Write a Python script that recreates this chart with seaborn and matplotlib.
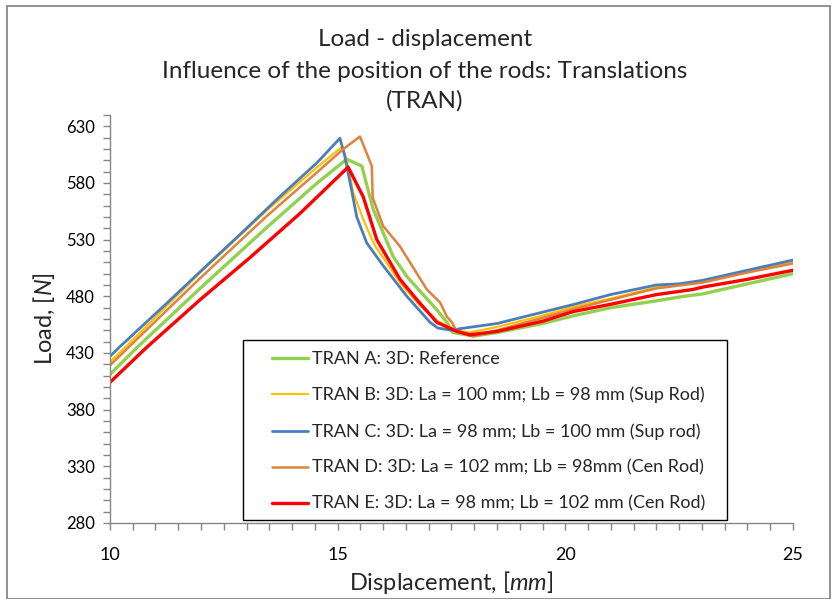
import matplotlib.pyplot as plt
import numpy as np
import pandas as pd
import seaborn as sns
from matplotlib.patches import Rectangle
from matplotlib.ticker import MultipleLocator

sns.set_theme(style="white")
plt.rcParams["font.family"] = ["Lato", "DejaVu Sans"]
plt.rcParams["mathtext.fontset"] = "custom"
plt.rcParams["mathtext.rm"] = "Lato"
plt.rcParams["mathtext.it"] = "Lato:italic"

# values (displacement in mm, load in N)
tran_a_x = [10, 10.59, 11.98, 13.45, 14.55, 15.2, 15.53, 15.78, 16.22, 16.52, 17.18, 17.4,
            17.53, 18.0, 18.5, 19.5, 20.2, 21, 22, 22.6, 23, 24, 25]
tran_a_y = [411, 434.7, 487, 541, 580, 601, 595, 557, 515, 497.5, 468, 457,
            448, 445, 448, 456, 463, 470, 476, 480, 482, 491, 500]

tran_b_x = [10, 10.33, 11.98, 13.45, 14.55, 15.1, 15.2, 15.34, 15.56, 15.8, 16.37, 16.8,
            17.2, 17.6, 17.9, 18.5, 19.5, 20.2, 21, 22, 23, 24, 25]
tran_b_y = [422, 434.7, 501, 556, 594, 612, 600, 572, 548, 526, 492, 472,
            458, 450, 448, 453, 463, 471, 478, 488, 493, 502, 510]

tran_c_x = [10, 10.22, 11.25, 12.2, 12.92, 13.73, 14.55, 15.05, 15.15, 15.3, 15.42, 15.64,
            16.0, 16.52, 17.03, 17.2, 17.5, 17.7, 18.5, 19.5, 20.2, 21, 22, 22.5, 23, 24, 25]
tran_c_y = [427, 435.6, 474, 510, 537, 568, 598, 619.5, 605, 575, 550, 527,
            507, 480, 457, 452, 450, 451.5, 456, 466, 473, 481.6, 490, 491, 494, 503, 512]

tran_d_x = [10, 10.4, 11.98, 13.45, 14.55, 15.12, 15.49, 15.75, 15.77, 16.0, 16.37, 16.96,
            17.25, 17.4, 17.51, 17.6, 17.97, 18.5, 19.5, 20.2, 21, 22, 23, 24, 25]
tran_d_y = [419, 434.7, 496, 551, 589.5, 609.8, 621, 595, 567, 542, 524, 486,
            474.5, 462, 457, 450, 444.5, 450, 461, 469, 477, 487, 492, 501, 509]

tran_e_x = [10, 10.8, 11.98, 13.07, 14.17, 15.23, 15.56, 15.86, 16.37, 16.74, 17.18, 17.62,
            17.9, 18.5, 19.5, 20.17, 21, 22, 22.8, 23, 24, 25]
tran_e_y = [404, 434.7, 477, 514, 553, 594, 568, 530, 495, 477, 457, 449,
            446, 449, 458, 466.5, 473, 481.5, 486, 488, 495, 503]

series_labels = [
    "TRAN A: 3D: Reference",
    "TRAN B: 3D: La = 100 mm; Lb = 98 mm (Sup Rod)",
    "TRAN C: 3D: La = 98 mm; Lb = 100 mm (Sup rod)",
    "TRAN D: 3D: La = 102 mm; Lb = 98mm (Cen Rod)",
    "TRAN E: 3D: La = 98 mm; Lb = 102 mm (Cen Rod)",
]
series_data = [
    (tran_a_x, tran_a_y),
    (tran_b_x, tran_b_y),
    (tran_c_x, tran_c_y),
    (tran_d_x, tran_d_y),
    (tran_e_x, tran_e_y),
]
series_colors = ["#92D050", "#FFC000", "#4A7EBB", "#E0823B", "#FF0000"]
series_widths = [2.4, 1.6, 2.0, 1.8, 2.4]

fig = plt.figure(figsize=(8.33, 5.99), dpi=100)
ax = fig.add_axes([0.132, 0.127, 0.820, 0.681])

for label, (xs, ys), color, lw in zip(series_labels, series_data, series_colors, series_widths):
    df = pd.DataFrame({"x": xs, "y": ys})
    sns.lineplot(data=df, x="x", y="y", sort=False, color=color, linewidth=lw,
                 label=label, ax=ax)

ax.set_xlim(10, 25)
ax.set_ylim(280, 640)
ax.xaxis.set_major_locator(MultipleLocator(5))
ax.xaxis.set_minor_locator(MultipleLocator(0.5))
ax.set_yticks(np.arange(280, 631, 50))
ax.yaxis.set_minor_locator(MultipleLocator(10))

axis_gray = "#868686"
for side in ["top", "right"]:
    ax.spines[side].set_visible(False)
for side in ["left", "bottom"]:
    ax.spines[side].set_color(axis_gray)
    ax.spines[side].set_linewidth(1.0)
ax.tick_params(axis="both", which="both", direction="out", color=axis_gray,
               length=5, width=1, labelsize=12, labelcolor="black")
ax.tick_params(axis="x", which="major", pad=12, labelsize=13)
ax.tick_params(axis="y", which="major", pad=6)
ax.tick_params(left=True, bottom=True, which="both")

ax.set_xlabel("Displacement, $\\mathit{[mm]}$", fontsize=17, labelpad=5)
ax.set_ylabel("Load, $\\mathit{[N]}$", fontsize=17, labelpad=6)

# legend box drawn by hand so the inner margins match the reference
box = Rectangle((243 / 833, 1 - 520 / 599), 484 / 833, 180 / 599, transform=fig.transFigure,
                facecolor="white", edgecolor="black", linewidth=1.0, zorder=4)
ax.add_patch(box)
box.set_clip_on(False)

leg = ax.legend(loc="upper left", bbox_to_anchor=(272 / 833, 1 - 351 / 599),
                bbox_transform=fig.transFigure, fontsize=13, frameon=False,
                handlelength=2.0, handletextpad=0.2, labelspacing=1.1,
                borderpad=0, borderaxespad=0)
leg.set_zorder(5)

fig.text(0.51, 1 - 40 / 599, "Load - displacement", ha="center", va="center", fontsize=17.5)
fig.text(0.51, 1 - 72 / 599, "Influence of the position of the rods: Translations",
         ha="center", va="center", fontsize=17.5)
fig.text(0.51, 1 - 101 / 599, "(TRAN)", ha="center", va="center", fontsize=17.5)

fig.patches.append(Rectangle((0.008, 0.0), 0.988, 0.99, transform=fig.transFigure,
                             fill=False, edgecolor="#7f7f7f", linewidth=1.2))

fig.savefig("out.png", dpi=100)
